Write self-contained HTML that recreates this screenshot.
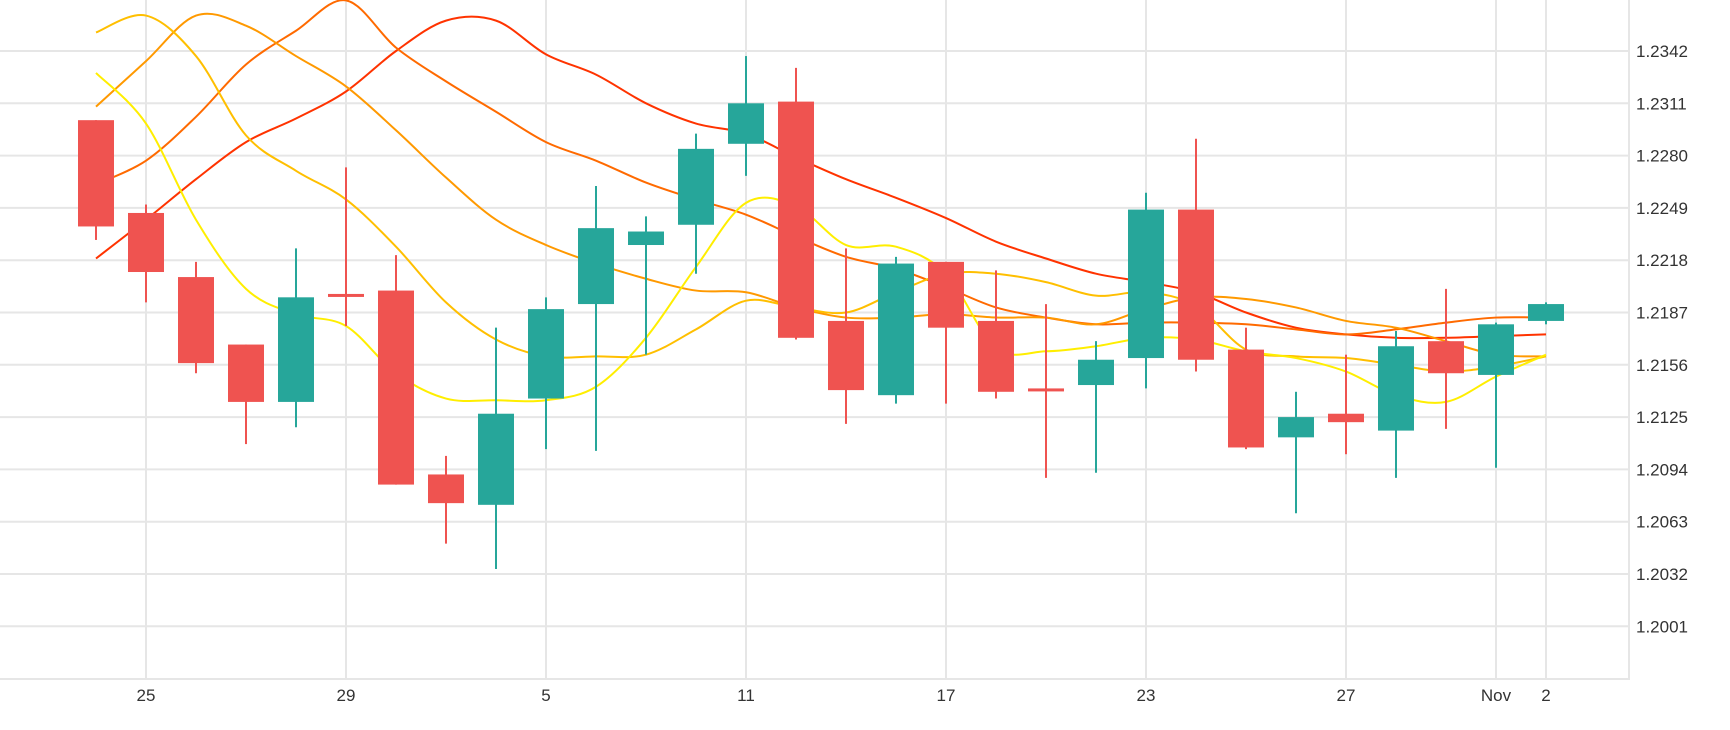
<!DOCTYPE html>
<html><head><meta charset="utf-8">
<style>
html,body{margin:0;padding:0;background:#fff;}
svg{display:block;font-family:"Liberation Sans",sans-serif;}
</style></head>
<body>
<svg id="chart" width="1730" height="730" viewBox="0 0 1730 730" xmlns="http://www.w3.org/2000/svg">
<g id="grid"></g>
<g id="lines"></g>
<g id="candles"></g>
<g id="axes"></g>
</svg>
<script>
const opens  = [1.2301,1.2246,1.2208,1.2168,1.2134,1.2198,1.2200,1.2091,1.2073,1.2136,1.2192,1.2227,1.2239,1.2287,1.2312,1.2182,1.2138,1.2217,1.2182,1.2142,1.2144,1.2160,1.2248,1.2165,1.2113,1.2127,1.2117,1.2170,1.2150,1.2182];
const closes = [1.2238,1.2211,1.2157,1.2134,1.2196,1.2197,1.2085,1.2074,1.2127,1.2189,1.2237,1.2235,1.2284,1.2311,1.2172,1.2141,1.2216,1.2178,1.2140,1.2141,1.2159,1.2248,1.2159,1.2107,1.2125,1.2122,1.2167,1.2151,1.2180,1.2192];
const highs  = [1.2301,1.2251,1.2217,1.2168,1.2225,1.2273,1.2221,1.2102,1.2178,1.2196,1.2262,1.2244,1.2293,1.2339,1.2332,1.2225,1.2220,1.2217,1.2212,1.2192,1.2170,1.2258,1.2290,1.2178,1.2140,1.2162,1.2176,1.2201,1.2181,1.2193];
const lows   = [1.2230,1.2193,1.2151,1.2109,1.2119,1.2179,1.2085,1.2050,1.2035,1.2106,1.2105,1.2162,1.2210,1.2268,1.2171,1.2121,1.2133,1.2133,1.2136,1.2089,1.2092,1.2142,1.2152,1.2106,1.2068,1.2103,1.2089,1.2118,1.2095,1.2180];
const maYellow = [1.2329,1.2299,1.2242,1.2201,1.2186,1.2179,1.2151,1.2136,1.2135,1.2135,1.2143,1.2172,1.2214,1.2252,1.2250,1.2227,1.2226,1.2210,1.2166,1.2164,1.2167,1.2172,1.2171,1.2164,1.2160,1.2152,1.2138,1.2134,1.2149,1.2162];
const maGold   = [1.2353,1.2363,1.2339,1.2292,1.2271,1.2254,1.2226,1.2193,1.2171,1.2161,1.2161,1.2162,1.2177,1.2194,1.2190,1.2187,1.2199,1.2210,1.2210,1.2205,1.2197,1.2199,1.2191,1.2165,1.2161,1.2160,1.2156,1.2152,1.2155,1.2161];
const maOrange = [1.2309,1.2336,1.2363,1.2357,1.2339,1.2321,1.2295,1.2267,1.2242,1.2227,1.2216,1.2207,1.2200,1.2199,1.2190,1.2184,1.2184,1.2186,1.2184,1.2184,1.2180,1.2189,1.2196,1.2195,1.2190,1.2182,1.2178,1.2170,1.2162,1.2161];
const maDark   = [1.2263,1.2277,1.2303,1.2334,1.2354,1.2372,1.2344,1.2324,1.2306,1.2288,1.2277,1.2264,1.2254,1.2245,1.2232,1.2220,1.2213,1.2202,1.2190,1.2184,1.2180,1.2181,1.2181,1.2180,1.2177,1.2174,1.2177,1.2181,1.2184,1.2184];
const maRed    = [1.2219,1.2242,1.2266,1.2288,1.2302,1.2318,1.2342,1.2360,1.2360,1.2340,1.2328,1.2311,1.2299,1.2293,1.2279,1.2266,1.2255,1.2243,1.2229,1.2219,1.2210,1.2205,1.2199,1.2187,1.2178,1.2174,1.2172,1.2172,1.2173,1.2174];
const yTicks = [1.2342,1.2311,1.2280,1.2249,1.2218,1.2187,1.2156,1.2125,1.2094,1.2063,1.2032,1.2001];
const xTickIdx = [1,5,9,13,17,21,25,28,29];
const xTickLabels = ["25","29","5","11","17","23","27","Nov","2"];

const NS="http://www.w3.org/2000/svg";
const plotR=1629, plotB=679;
function xs(i){return 96+50*i;}
function ys(v){return 51+(1.2342-v)/0.0031*52.3;}
function mk(tag,attrs,parent){const e=document.createElementNS(NS,tag);for(const k in attrs)e.setAttribute(k,attrs[k]);parent.appendChild(e);return e;}
const grid=document.getElementById('grid'), axes=document.getElementById('axes');
yTicks.forEach((t)=>{
  const l=mk('line',{x1:0,x2:plotR,y1:ys(t),y2:ys(t),stroke:'#e6e6e6','stroke-width':2},grid);
  
  
  const tx=mk('text',{x:1636,y:ys(t)+6,'font-size':17,fill:'#333'},axes);
  tx.textContent=t.toFixed(4);
  
  
});
xTickIdx.forEach((idx,k)=>{
  const l=mk('line',{x1:xs(idx),x2:xs(idx),y1:0,y2:plotB,stroke:'#e6e6e6','stroke-width':2},grid);
  
  
  const tx=mk('text',{x:xs(idx),y:701,'font-size':17,fill:'#333','text-anchor':'middle'},axes);
  tx.textContent=xTickLabels[k];
  
  
});
const ax1=mk('line',{x1:plotR,x2:plotR,y1:0,y2:plotB+1,stroke:'#e6e6e6','stroke-width':2},axes);


const ax2=mk('line',{x1:0,x2:plotR,y1:plotB,y2:plotB,stroke:'#e6e6e6','stroke-width':2},axes);



function smoothPath(vals){
  const p=vals.map((v,i)=>[xs(i),ys(v)]);
  let d='M'+p[0][0]+','+p[0][1];
  for(let i=0;i<p.length-1;i++){
    const p0=p[i-1]||p[i],p1=p[i],p2=p[i+1],p3=p[i+2]||p2;
    const c1=[p1[0]+(p2[0]-p0[0])/6,p1[1]+(p2[1]-p0[1])/6];
    const c2=[p2[0]-(p3[0]-p1[0])/6,p2[1]-(p3[1]-p1[1])/6];
    d+=' C'+c1[0]+','+c1[1]+' '+c2[0]+','+c2[1]+' '+p2[0]+','+p2[1];
  }
  return d;
}
const lines=document.getElementById('lines');
const series=[[maRed,'#ff3300','ma-red'],[maDark,'#ff6a00','ma-dark-orange'],[maOrange,'#ff9900','ma-orange'],[maGold,'#ffbf00','ma-gold'],[maYellow,'#ffee00','ma-yellow']];
series.forEach(s=>{
  const p=mk('path',{d:smoothPath(s[0]),fill:'none',stroke:s[1],'stroke-width':2},lines);
  
  
});
const cg=document.getElementById('candles');
opens.forEach((o,i)=>{
  const c=closes[i], up=c>=o, col=up?'#26a69a':'#ef5350';
  const g=mk('g',{},cg);
  
  
  mk('line',{x1:xs(i),x2:xs(i),y1:ys(highs[i]),y2:ys(lows[i]),stroke:col,'stroke-width':2},g);
  const top=ys(Math.max(o,c)), bot=ys(Math.min(o,c));
  mk('rect',{x:xs(i)-18,y:top,width:36,height:Math.max(bot-top,3),fill:col},g);
});
</script>
</body></html>
